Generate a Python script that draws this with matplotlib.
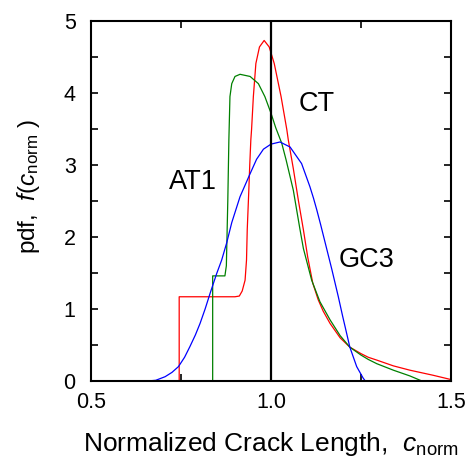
import numpy as np
import matplotlib
matplotlib.use('Agg')
import matplotlib.pyplot as plt

plt.rcParams['font.family'] = 'Liberation Sans'
plt.rcParams['mathtext.fontset'] = 'custom'
plt.rcParams['mathtext.rm'] = 'Liberation Sans'
plt.rcParams['mathtext.it'] = 'Liberation Sans:italic'

# CT (red)
ct_x = [0.50, 0.745, 0.745, 0.90, 0.912, 0.920, 0.928, 0.932, 0.934, 0.938, 0.941, 0.944,
        0.946, 0.951, 0.958, 0.968, 0.981, 0.995, 1.009, 1.028, 1.044, 1.048, 1.062,
        1.076, 1.090, 1.102, 1.116, 1.131, 1.145, 1.164, 1.192, 1.219, 1.25, 1.27,
        1.294, 1.34, 1.386, 1.45, 1.50]
ct_y = [0.0, 0.0, 1.17, 1.17, 1.18, 1.25, 1.40, 1.68, 2.10, 2.60, 3.00, 3.35,
        3.49, 3.95, 4.41, 4.64, 4.73, 4.64, 4.41, 3.95, 3.49, 3.35, 2.95,
        2.51, 2.10, 1.72, 1.36, 1.13, 0.97, 0.80, 0.60, 0.47, 0.38, 0.33,
        0.29, 0.21, 0.15, 0.08, 0.02]

# AT1 (green)
at1_x = [0.50, 0.838, 0.838, 0.872, 0.876, 0.880, 0.883, 0.886, 0.891, 0.900, 0.914,
         0.942, 0.965, 0.983, 1.000, 1.013, 1.030, 1.042, 1.062, 1.080,
         1.090, 1.113, 1.136, 1.164, 1.192, 1.219, 1.25, 1.27, 1.294, 1.34, 1.386, 1.419]
at1_y = [0.0, 0.0, 1.46, 1.46, 1.60, 2.50, 3.35, 3.95, 4.13, 4.23, 4.26,
         4.23, 4.13, 3.95, 3.72, 3.52, 3.30, 3.07, 2.65, 2.12,
         1.84, 1.40, 1.10, 0.85, 0.63, 0.47, 0.36, 0.30, 0.24, 0.15, 0.07, 0.0]

# GC3 (blue)
gc3_x = [0.657, 0.68, 0.706, 0.725, 0.743, 0.760, 0.775, 0.790, 0.803, 0.817, 0.831,
         0.849, 0.863, 0.877, 0.891, 0.914, 0.942, 0.960, 0.979, 1.000, 1.025, 1.053,
         1.085, 1.108, 1.118, 1.127, 1.138, 1.150, 1.169, 1.187, 1.199, 1.206, 1.219,
         1.238, 1.256, 1.262]
gc3_y = [0.0, 0.01, 0.06, 0.12, 0.20, 0.33, 0.48, 0.64, 0.80, 1.00, 1.22,
         1.49, 1.68, 1.92, 2.20, 2.56, 2.88, 3.08, 3.22, 3.29, 3.32, 3.25,
         3.02, 2.70, 2.54, 2.38, 2.17, 1.93, 1.55, 1.17, 0.90, 0.75, 0.47,
         0.20, 0.04, 0.0]

fig = plt.figure(figsize=(4.68, 4.57), dpi=100)
ax = fig.add_axes([0.1944, 0.1663, 0.7693, 0.7877])

ax.plot(ct_x, ct_y, color='#ff0000', lw=0.9)
ax.plot(at1_x, at1_y, color='#008000', lw=0.9)
ax.plot(gc3_x, gc3_y, color='#0000ff', lw=0.9)
ax.axvline(1.0, color='black', lw=1.6)

ax.text(1.127, 3.85, 'CT', fontsize=19.5, ha='center', va='center')
ax.text(0.782, 2.77, 'AT1', fontsize=19.5, ha='center', va='center')
ax.text(1.266, 1.68, 'GC3', fontsize=19.5, ha='center', va='center')

ax.set_xlim(0.5, 1.5)
ax.set_ylim(0, 5)
ax.set_xticks([0.5, 1.0, 1.5])
ax.set_xticklabels(['0.5', '1.0', '1.5'])
ax.set_xticks([0.75, 1.25], minor=True)
ax.set_yticks([0, 1, 2, 3, 4, 5])
ax.set_yticks([0.5, 1.5, 2.5, 3.5, 4.5], minor=True)
ax.tick_params(which='both', direction='in', top=True, right=True, length=5, width=1.2,
               labelsize=15.5)
ax.tick_params(axis='x', pad=8)
ax.tick_params(axis='y', pad=11)
for s in ax.spines.values():
    s.set_linewidth(1.5)

ax.set_xlabel(r'Normalized Crack Length,  $c_{\mathrm{norm}}$', fontsize=19)
ax.set_ylabel(r'pdf,  $f$($c_{\mathrm{norm}}$ )', fontsize=17.5)
ax.xaxis.set_label_coords(0.5, -0.135)
ax.yaxis.set_label_coords(-0.135, 0.54)

fig.savefig('out.png', dpi=100)
